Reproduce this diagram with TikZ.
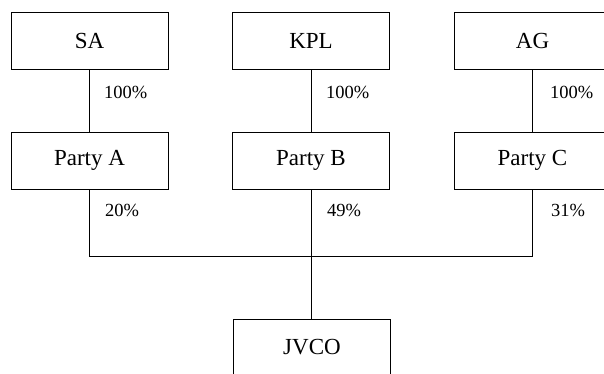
\documentclass[tikz,border=0pt]{standalone}
\usepackage{fontspec}
\setmainfont{Liberation Serif}
\begin{document}
\begin{tikzpicture}[x=1pt,y=-1pt,
  box/.style={draw, line width=0.8pt, minimum width=157pt, minimum height=57pt, inner sep=0pt, font=\fontsize{23}{26}\selectfont},
  pct/.style={anchor=west, inner sep=0pt, font=\fontsize{18.5}{21}\selectfont},
  conn/.style={line width=0.8pt}]
\useasboundingbox (0,0) rectangle (604,373);
\node[box] (SA)  at (89.5,40.5) {SA};
\node[box] (KPL) at (311,40.5) {KPL};
\node[box] (AG)  at (532.5,40.5) {AG};
\node[box] (PA)  at (89.5,160.5) {Party A};
\node[box] (PB)  at (311,160.5) {Party B};
\node[box] (PC)  at (532.5,160.5) {Party C};
\node[box] (JV)  at (312,347.5) {JVCO};
\coordinate (bus) at (0,256);
\draw[conn] (SA.south) -- (PA.north);
\draw[conn] (KPL.south) -- (PB.north);
\draw[conn] (AG.south) -- (PC.north);
\draw[conn] (PA.south) -- (PA.south |- bus) -- (PC.south |- bus) -- (PC.south);
\draw[conn] (PB.south) -- (PB.south |- JV.north);
\node[pct] (l1) at (104,92) {100\%};
\node[pct] (l2) at (326,92) {100\%};
\node[pct] (l3) at (550,92) {100\%};
\node[pct] (l4) at (105,210) {20\%};
\node[pct] (l5) at (327,210) {49\%};
\node[pct] (l6) at (551,210) {31\%};
\end{tikzpicture}
\end{document}
